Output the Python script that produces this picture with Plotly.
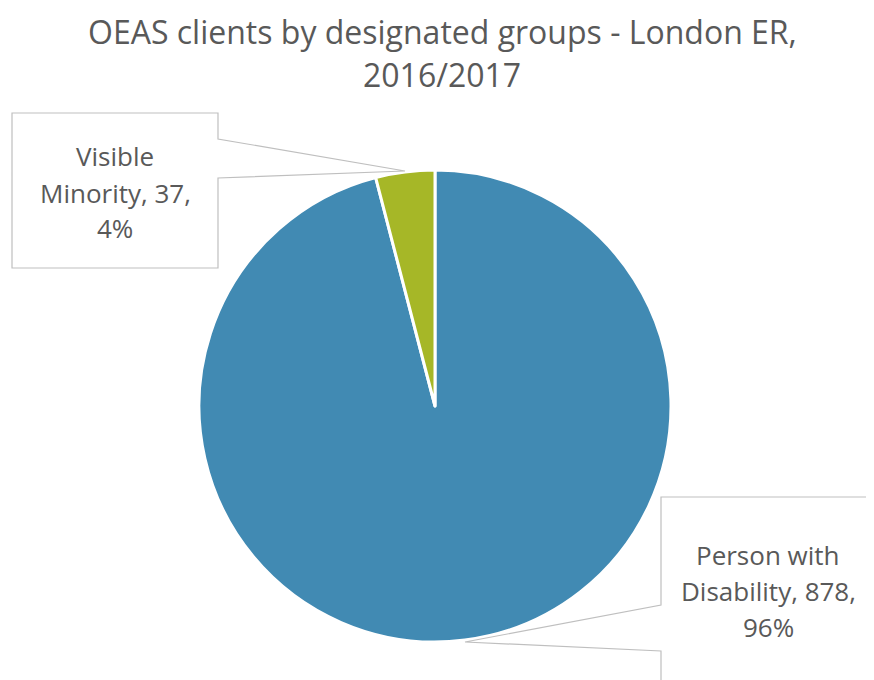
import plotly.graph_objects as go

W, H = 874, 680
OFF = 8  # page body margin that shifts the figure in the browser

# data
groups = ["Person with Disability", "Visible Minority"]
clients = [878, 37]
label_lines = [["Person with", "Disability, {v},", "{p}%"],
               ["Visible", "Minority, {v},", "{p}%"]]
colors = ["#418AB3", "#A6B727"]

title_lines = ["OEAS clients by designated groups - London ER,", "2016/2017"]

TEXT = "#595959"
FONT = "Open Sans"
BOX = "#BFBFBF"


def px(x, y):
    # screen pixel coordinates -> paper coordinates
    return (x - OFF) / W, 1 - (y - OFF) / H


def path(points):
    pts = [px(x, y) for x, y in points]
    return "M " + " L ".join(f"{a:.5f},{b:.5f}" for a, b in pts) + " Z"


fig = go.Figure()

x0, _ = px(199, 0)
x1, _ = px(671, 0)
_, y0 = px(0, 642)
_, y1 = px(0, 170)

fig.add_trace(go.Pie(
    labels=groups, values=clients, sort=False, direction="clockwise", rotation=0,
    marker=dict(colors=colors, line=dict(color="white", width=3)),
    textinfo="none", hoverinfo="label+value+percent", showlegend=False,
    domain=dict(x=[x0, x1], y=[y0, y1]),
))

# ── callout boxes ────────────────────────────────────────────────────
callouts = [
    [(661, 497), (890, 497), (890, 700), (661, 700), (661, 651), (465, 642), (661, 605)],
    [(12, 113), (218, 113), (218, 139), (405, 171), (218, 178), (218, 268), (12, 268)],
]
shapes = [dict(type="path", xref="paper", yref="paper", path=path(c),
               line=dict(color=BOX, width=1.2), fillcolor="white", layer="above")
          for c in callouts]

# ── label text ───────────────────────────────────────────────────────
total = sum(clients)
label_pos = [(768, [555, 591, 627]), (115, [156, 193, 228])]
annotations = []
for lines, v, (cx, ys) in zip(label_lines, clients, label_pos):
    pct = round(100 * v / total)
    for line, yy in zip(lines, ys):
        ax, ay = px(cx, yy)
        annotations.append(dict(
            text=line.format(v=v, p=pct), x=ax, y=ay, xref="paper", yref="paper",
            xanchor="center", yanchor="middle", showarrow=False,
            font=dict(family=FONT, size=26, color=TEXT),
        ))

for line, yy in zip(title_lines, [32, 75]):
    ax, ay = px(442, yy)
    annotations.append(dict(
        text=line, x=ax, y=ay, xref="paper", yref="paper",
        xanchor="center", yanchor="middle", showarrow=False,
        font=dict(family=FONT, size=32, color=TEXT),
    ))

fig.update_layout(
    width=W, height=H, margin=dict(l=0, r=0, t=0, b=0),
    paper_bgcolor="white", plot_bgcolor="white",
    shapes=shapes, annotations=annotations,
)

fig.write_html("out.html")
